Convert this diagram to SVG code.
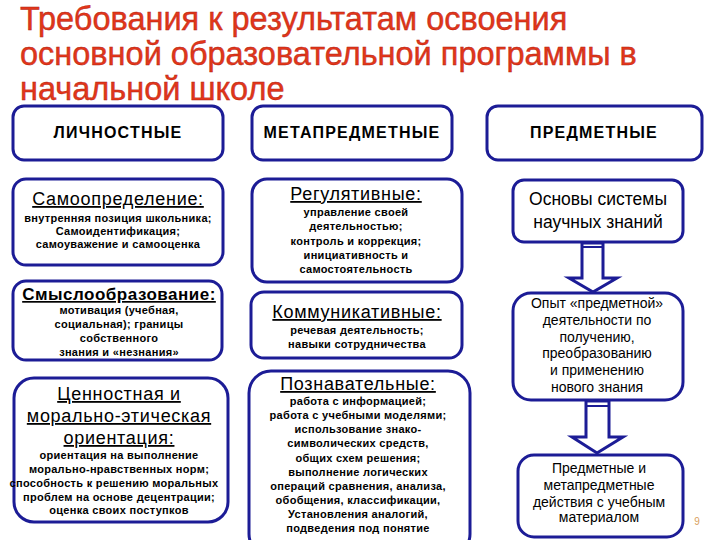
<svg xmlns="http://www.w3.org/2000/svg" width="720" height="540" viewBox="0 0 720 540">
<style>
.title{font-family:"Liberation Sans",Arial,sans-serif;font-size:32.5px;fill:#e2361a;stroke:#b0200f;stroke-width:0.4}
.box{fill:#ffffff;stroke:#1c1c96;stroke-width:3}
.hdr{font-family:"Liberation Sans",Arial,sans-serif;font-size:16px;font-weight:bold;fill:#000;text-anchor:middle;letter-spacing:1.2px}
.sub{font-family:"Liberation Sans",Arial,sans-serif;font-size:18px;fill:#000;text-anchor:middle;text-decoration:underline;letter-spacing:0.7px}
.subb{font-family:"Liberation Sans",Arial,sans-serif;font-size:17px;font-weight:bold;fill:#000;text-anchor:middle;text-decoration:underline;letter-spacing:0.5px}
.sm{font-family:"Liberation Sans",Arial,sans-serif;font-size:11px;font-weight:bold;fill:#000;text-anchor:middle;letter-spacing:0.3px}
.reg{font-family:"Liberation Sans",Arial,sans-serif;font-size:14px;fill:#000;text-anchor:middle}
.big{font-family:"Liberation Sans",Arial,sans-serif;font-size:17.5px;fill:#000;text-anchor:middle}
.arrow{fill:#ffffff;stroke:#1c1c96;stroke-width:3;stroke-linejoin:miter}
</style>
<rect width="720" height="540" fill="#ffffff"/>
<g id="title">
<text class="title" x="20" y="30">Требования к результатам освоения</text>
<text class="title" x="20" y="65">основной образовательной  программы в</text>
<text class="title" x="20" y="100">начальной школе</text>
</g>
<g id="connectors">
<path class="arrow" d="M582,243 L603,243 L603,278 L617,278 L593,292 L569,278 L582,278 Z"/>
<line x1="582" y1="247" x2="603" y2="247" stroke="#1c1c96" stroke-width="2"/>
<path class="arrow" d="M586,401 L609,401 L609,437 L623,437 L597,453 L572,437 L586,437 Z"/>
<line x1="586" y1="406" x2="609" y2="406" stroke="#1c1c96" stroke-width="2"/>
</g>
<g id="lichnostnye">
<rect class="box" x="13" y="106" width="210" height="54" rx="11"/>
<text class="hdr" x="118" y="138">ЛИЧНОСТНЫЕ</text>
</g>
<g id="metapredmetnye">
<rect class="box" x="252" y="106" width="200" height="54" rx="11"/>
<text class="hdr" x="352" y="138">МЕТАПРЕДМЕТНЫЕ</text>
</g>
<g id="predmetnye">
<rect class="box" x="487" y="106" width="215" height="54" rx="11"/>
<text class="hdr" x="594" y="138">ПРЕДМЕТНЫЕ</text>
</g>
<g id="samoopredelenie">
<rect class="box" x="13" y="179" width="210" height="86" rx="13"/>
<text class="sub" x="118" y="205">Самоопределение:</text>
<text class="sm" x="118" y="222">внутренняя позиция школьника;</text>
<text class="sm" x="118" y="235">Самоидентификация;</text>
<text class="sm" x="118" y="248">самоуважение и самооценка</text>
</g>
<g id="smysloobrazovanie">
<rect class="box" x="13" y="281" width="209" height="79" rx="13"/>
<text class="subb" x="119" y="300">Смыслообразование:</text>
<text class="sm" x="119" y="314">мотивация (учебная,</text>
<text class="sm" x="119" y="328">социальная); границы</text>
<text class="sm" x="119" y="342">собственного</text>
<text class="sm" x="119" y="356">знания и «незнания»</text>
</g>
<g id="cennostnaya">
<rect class="box" x="14" y="378" width="214" height="144" rx="20"/>
<text class="sub" x="119" y="400">Ценностная и</text>
<text class="sub" x="119" y="422">морально-этическая</text>
<text class="sub" x="119" y="444">ориентация:</text>
<text class="sm" x="119" y="459">ориентация на выполнение</text>
<text class="sm" x="119" y="473">морально-нравственных норм;</text>
<text class="sm" x="114" y="487">способность к решению моральных</text>
<text class="sm" x="119" y="501">проблем на основе децентрации;</text>
<text class="sm" x="119" y="514">оценка своих поступков</text>
</g>
<g id="regulyativnye">
<rect class="box" x="252" y="179" width="210" height="103" rx="15"/>
<text class="sub" x="356" y="200">Регулятивные:</text>
<text class="sm" x="356" y="216">управление своей</text>
<text class="sm" x="356" y="230">деятельностью;</text>
<text class="sm" x="356" y="245">контроль и коррекция;</text>
<text class="sm" x="356" y="259">инициативность и</text>
<text class="sm" x="356" y="273">самостоятельность</text>
</g>
<g id="kommunikativnye">
<rect class="box" x="251" y="292" width="211" height="66" rx="13"/>
<text class="sub" x="357" y="318">Коммуникативные:</text>
<text class="sm" x="357" y="334">речевая деятельность;</text>
<text class="sm" x="357" y="348">навыки сотрудничества</text>
</g>
<g id="poznavatelnye">
<rect class="box" x="249" y="371" width="221" height="185" rx="22"/>
<text class="sub" x="358" y="390">Познавательные:</text>
<text class="sm" x="358" y="405">работа с информацией;</text>
<text class="sm" x="358" y="419">работа с учебными моделями;</text>
<text class="sm" x="358" y="433">использование знако-</text>
<text class="sm" x="358" y="447">символических средств,</text>
<text class="sm" x="358" y="462">общих схем решения;</text>
<text class="sm" x="358" y="476">выполнение логических</text>
<text class="sm" x="358" y="490">операций сравнения,  анализа,</text>
<text class="sm" x="358" y="504">обобщения, классификации,</text>
<text class="sm" x="358" y="518">Установления аналогий,</text>
<text class="sm" x="358" y="532">подведения под понятие</text>
</g>
<g id="osnovy">
<rect class="box" x="513" y="180" width="170" height="62" rx="11"/>
<text class="big" x="598" y="205">Основы системы</text>
<text class="big" x="598" y="228">научных знаний</text>
</g>
<g id="opyt">
<rect class="box" x="513" y="293" width="170" height="107" rx="18"/>
<text class="reg" x="597" y="308">Опыт «предметной»</text>
<text class="reg" x="597" y="325">деятельности по</text>
<text class="reg" x="597" y="342">получению,</text>
<text class="reg" x="597" y="358">преобразованию</text>
<text class="reg" x="597" y="375">и применению</text>
<text class="reg" x="597" y="392">нового знания</text>
</g>
<g id="predmetnye-deystviya">
<rect class="box" x="518" y="455" width="165" height="82" rx="16"/>
<text class="reg" x="599" y="473">Предметные и</text>
<text class="reg" x="599" y="490">метапредметные</text>
<text class="reg" x="599" y="507">действия с учебным</text>
<text class="reg" x="599" y="522">материалом</text>
</g>
<text x="697" y="525" style="font-family:'Liberation Sans',Arial,sans-serif;font-size:10px;fill:#d9a060;text-anchor:middle">9</text>
</svg>
